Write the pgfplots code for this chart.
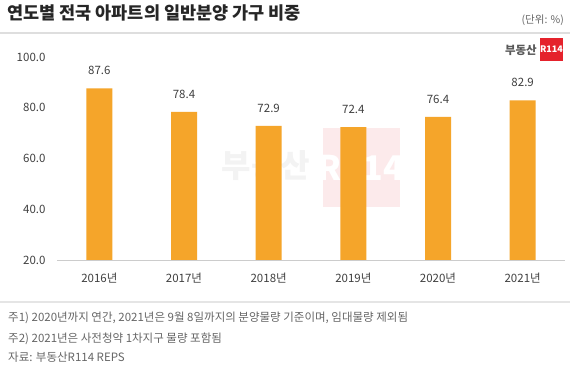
\documentclass[border=0pt]{standalone}
\usepackage{pgfplots}
\pgfplotsset{compat=1.18}
\usepackage{fontspec}
\setmainfont{Noto Sans CJK KR}
\definecolor{barc}{HTML}{F5A52A}
\definecolor{txt}{HTML}{404040}
\definecolor{note}{HTML}{666666}
\definecolor{logored}{HTML}{E5222C}
\definecolor{wmpink}{HTML}{FCEAEB}
\definecolor{wmgray}{HTML}{F3F3F3}
\begin{document}
\begin{tikzpicture}
\useasboundingbox[fill=white] (0pt,0pt) rectangle (570pt,371pt);
% title
\node[anchor=west,font=\fontsize{17.5}{19}\selectfont\bfseries,text=black!85,inner sep=0pt] at (7pt,358pt) {연도별 전국 아파트의 일반분양 가구 비중};
\node[anchor=east,font=\fontsize{10.5}{12}\selectfont,text=note,inner sep=0pt] at (564pt,351pt) {(단위: \%)};
\draw[line width=1.5pt,black!13] (0pt,338pt) -- (570pt,338pt);
% logo
\node[anchor=east,font=\fontsize{11.5}{13}\selectfont\bfseries,text=black!65,inner sep=0pt] at (537pt,321pt) {부동산};
\fill[logored] (540pt,310pt) rectangle (563pt,333pt);
\node[font=\fontsize{9}{10}\selectfont\bfseries,text=white,inner sep=0pt] at (551.5pt,321.5pt) {R114};
% watermark
\node[font=\fontsize{32}{34}\selectfont\bfseries,text=wmgray,inner sep=0pt] at (266pt,205pt) {부동산};
\fill[wmpink] (323pt,164pt) rectangle (400pt,243pt);
\node[font=\fontsize{34}{36}\selectfont\bfseries,text=white,inner sep=0pt] at (361pt,203pt) {R114};
\begin{axis}[
  at={(57pt,111pt)}, anchor=south west,
  scale only axis, width=508pt, height=203pt,
  xmin=-0.5, xmax=5.5, ymin=20, ymax=100,
  ybar, bar width=26pt,
  xtick={0,...,5},
  xticklabels={2016년,2017년,2018년,2019년,2020년,2021년},
  ytick={20,40,60,80,100},
  major tick length=0pt,
  /pgf/number format/assume math mode=true,
  yticklabel={\pgfmathprintnumber[fixed,fixed zerofill,precision=1]{\tick}},
  tick label style={font=\fontsize{11.5}{13}\selectfont,text=txt},
  yticklabel style={xshift=-8pt},
  xticklabel style={yshift=-9pt},
  axis x line*=bottom, axis y line*=left,
  x axis line style={draw=black!20,line width=0.8pt,-},
  y axis line style={draw=none},
  nodes near coords={\pgfmathprintnumber[fixed,fixed zerofill,precision=1]{\pgfplotspointmeta}},
  nodes near coords style={font=\fontsize{11.5}{13}\selectfont,text=txt,yshift=10pt},
]
\addplot[fill=barc,draw=none] coordinates {(0,87.6) (1,78.4) (2,72.9) (3,72.4) (4,76.4) (5,82.9)};
\end{axis}
% footnotes
\draw[line width=1.5pt,black!10] (0pt,69pt) -- (570pt,69pt);
\node[anchor=west,font=\fontsize{11.5}{13}\selectfont,text=note,inner sep=0pt] at (8pt,53pt) {주1) 2020년까지 연간, 2021년은 9월 8일까지의 분양물량 기준이며, 임대물량 제외됨};
\node[anchor=west,font=\fontsize{11.5}{13}\selectfont,text=note,inner sep=0pt] at (8pt,32pt) {주2) 2021년은 사전청약 1차지구 물량 포함됨};
\node[anchor=west,font=\fontsize{11.5}{13}\selectfont,text=note,inner sep=0pt] at (8pt,14pt) {자료: 부동산R114 REPS};
\end{tikzpicture}
\end{document}
